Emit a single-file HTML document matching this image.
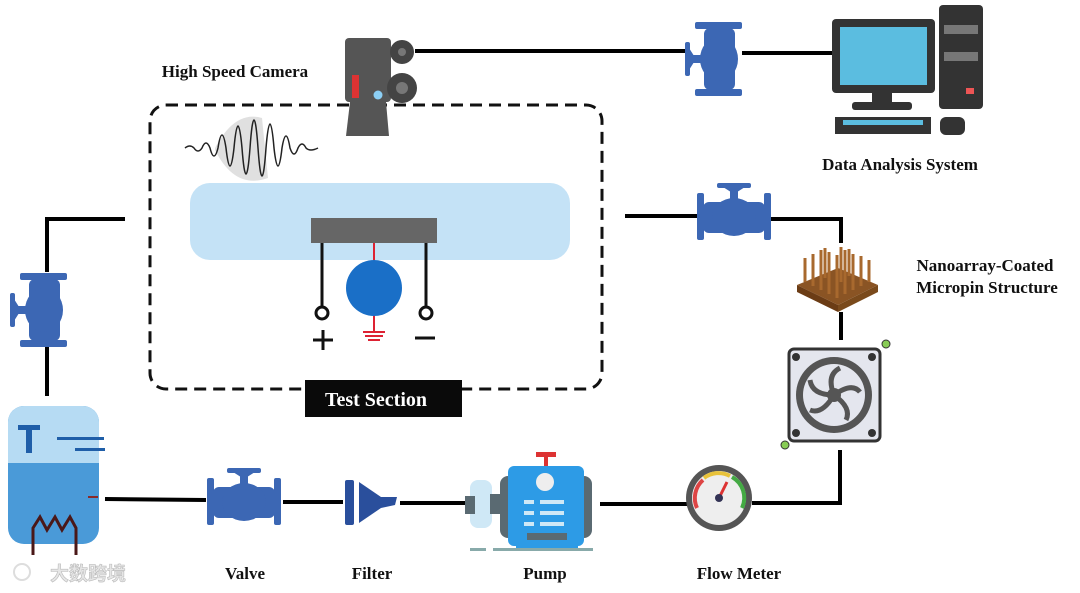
<!DOCTYPE html>
<html><head><meta charset="utf-8"><style>
html,body{margin:0;padding:0;background:#fff;}
svg{display:block;}
text{font-family:"Liberation Serif",serif;font-weight:bold;fill:#111;}
</style></head><body>
<svg width="1080" height="593" viewBox="0 0 1080 593" xmlns="http://www.w3.org/2000/svg">
<defs>
<g id="valve">
  <rect x="0" y="10" width="7" height="47" rx="2" fill="#3c67b4"/>
  <rect x="67" y="10" width="7" height="47" rx="2" fill="#3c67b4"/>
  <rect x="6" y="19" width="62" height="31" rx="6" fill="#3c67b4"/>
  <ellipse cx="37" cy="34" rx="22" ry="19" fill="#3c67b4"/>
  <rect x="33" y="6" width="8" height="14" fill="#3c67b4"/>
  <rect x="20" y="0" width="34" height="5" rx="2" fill="#3c67b4"/>
  <path d="M26 4 L48 4 L37 11 Z" fill="#3c67b4"/>
</g>
</defs>

<!-- pipes -->
<g stroke="#000" stroke-width="4" fill="none">
  <polyline points="125,219 47,219 47,272"/>
  <line x1="47" y1="347" x2="47" y2="396"/>
  <line x1="415" y1="51" x2="686" y2="51"/>
  <line x1="742" y1="53" x2="833" y2="53"/>
  <line x1="625" y1="216" x2="697" y2="216"/>
  <polyline points="771,219 841,219 841,243"/>
  <line x1="841" y1="312" x2="841" y2="340"/>
  <polyline points="840,450 840,503 752,503"/>
  <line x1="600" y1="504" x2="688" y2="504"/>
  <line x1="400" y1="503" x2="466" y2="503"/>
  <line x1="283" y1="502" x2="343" y2="502"/>
  <line x1="105" y1="499" x2="206" y2="500"/>
</g>

<!-- dashed test section -->
<rect x="150" y="105" width="452" height="284" rx="16" fill="none" stroke="#111" stroke-width="3" stroke-dasharray="12,7"/>
<rect x="190" y="183" width="380" height="77" rx="20" fill="#c4e2f6"/>
<rect x="311" y="218" width="126" height="25" fill="#666"/>
<g stroke="#111" stroke-width="3" fill="#fff">
  <line x1="322" y1="243" x2="322" y2="307"/>
  <line x1="426" y1="243" x2="426" y2="307"/>
  <circle cx="322" cy="313" r="6"/>
  <circle cx="426" cy="313" r="6"/>
  <line x1="313" y1="340" x2="333" y2="340"/>
  <line x1="323" y1="330" x2="323" y2="350"/>
  <line x1="415" y1="338" x2="435" y2="338"/>
</g>
<g stroke="#d23" stroke-width="2">
  <line x1="374" y1="243" x2="374" y2="262"/>
  <line x1="374" y1="315" x2="374" y2="332"/>
  <line x1="363" y1="332" x2="385" y2="332"/>
  <line x1="365" y1="336" x2="383" y2="336"/>
  <line x1="368" y1="340" x2="380" y2="340"/>
</g>
<circle cx="374" cy="288" r="28" fill="#1a6fc7"/>
<!-- wave -->
<path d="M215 148 Q235 110 262 118 L268 178 Q235 190 215 150 Z" fill="#bbb" opacity="0.45"/>
<path d="M185 148 Q190 144 194 148 Q198 154 202 148 Q206 138 210 148 Q214 164 218 148 Q222 122 226 148 Q230 184 234 148 Q238 104 242 148 Q246 200 250 148 Q254 92 258 148 Q262 204 266 148 Q270 100 274 148 Q278 184 282 148 Q286 124 290 148 Q294 160 298 148 Q302 140 306 148 Q310 152 318 148" fill="none" stroke="#222" stroke-width="1.5"/>

<!-- camera -->
<rect x="345" y="38" width="46" height="64" rx="4" fill="#555"/>
<rect x="352" y="75" width="7" height="23" fill="#d33"/>
<circle cx="378" cy="95" r="4.5" fill="#8ccff5"/>
<path d="M350 102 L386 102 L389 136 L346 136 Z" fill="#555"/>
<circle cx="402" cy="52" r="12" fill="#444"/><circle cx="402" cy="52" r="4" fill="#777"/>
<circle cx="402" cy="88" r="15" fill="#444"/><circle cx="402" cy="88" r="6" fill="#777"/>
<text x="235" y="77" font-size="17" text-anchor="middle">High Speed Camera</text>

<!-- valves -->
<use href="#valve" transform="translate(10,347) rotate(-90)"/>
<use href="#valve" transform="translate(685,96) rotate(-90)"/>
<use href="#valve" transform="translate(697,183)"/>
<use href="#valve" transform="translate(207,468)"/>

<!-- computer -->
<rect x="832" y="19" width="103" height="74" rx="4" fill="#333"/>
<rect x="840" y="27" width="87" height="58" fill="#5bbde0"/>
<rect x="872" y="93" width="20" height="10" fill="#333"/>
<rect x="852" y="102" width="60" height="8" rx="3" fill="#333"/>
<rect x="835" y="117" width="96" height="17" fill="#333"/>
<rect x="843" y="120" width="80" height="5" fill="#5bbde0"/>
<rect x="939" y="5" width="44" height="104" rx="4" fill="#333"/>
<rect x="944" y="25" width="34" height="9" fill="#777"/>
<rect x="944" y="52" width="34" height="9" fill="#777"/>
<rect x="966" y="88" width="8" height="6" fill="#e55"/>
<rect x="940" y="117" width="25" height="18" rx="6" fill="#333"/>
<text x="900" y="170" font-size="17" text-anchor="middle">Data Analysis System</text>

<!-- micropin -->
<path d="M797 285 L838 268 L878 285 L838 305 Z" fill="#8a5424"/>
<path d="M797 285 L838 305 L838 312 L797 292 Z" fill="#6b3c15"/>
<path d="M878 285 L838 305 L838 312 L878 292 Z" fill="#7a4a1c"/>
<g stroke="#a8692e" stroke-width="3">
  <line x1="805" y1="282" x2="805" y2="258"/><line x1="813" y1="286" x2="813" y2="254"/>
  <line x1="821" y1="290" x2="821" y2="250"/><line x1="829" y1="294" x2="829" y2="252"/>
  <line x1="837" y1="298" x2="837" y2="255"/><line x1="845" y1="294" x2="845" y2="250"/>
  <line x1="853" y1="290" x2="853" y2="254"/><line x1="861" y1="286" x2="861" y2="256"/>
  <line x1="869" y1="282" x2="869" y2="260"/><line x1="825" y1="278" x2="825" y2="248"/>
  <line x1="841" y1="282" x2="841" y2="247"/><line x1="849" y1="276" x2="849" y2="249"/>
</g>
<text x="985" y="271" font-size="17" text-anchor="middle">Nanoarray-Coated</text>
<text x="987" y="293" font-size="17" text-anchor="middle">Micropin Structure</text>

<!-- fan -->
<rect x="789" y="349" width="91" height="92" rx="5" fill="#e4e6ee" stroke="#333" stroke-width="3"/>
<circle cx="834" cy="395" r="38" fill="#555"/>
<circle cx="834" cy="395" r="31" fill="#e4e6ee"/>
<g fill="none" stroke="#555" stroke-width="5">
  <path d="M834 395 Q826 375 840 368"/><path d="M834 395 Q852 382 860 392"/>
  <path d="M834 395 Q852 408 846 420"/><path d="M834 395 Q822 415 810 410"/>
  <path d="M834 395 Q812 395 810 380"/>
</g>
<circle cx="834" cy="395" r="7" fill="#555"/>
<g fill="#333"><circle cx="796" cy="357" r="4"/><circle cx="872" cy="357" r="4"/><circle cx="796" cy="433" r="4"/><circle cx="872" cy="433" r="4"/></g>
<circle cx="886" cy="344" r="4" fill="#8c5" stroke="#333"/>
<circle cx="785" cy="445" r="4" fill="#8c5" stroke="#333"/>

<!-- flow meter -->
<circle cx="719" cy="498" r="33" fill="#555"/>
<circle cx="719" cy="498" r="27" fill="#eee"/>
<path d="M697 508 A24 24 0 0 1 703 480" fill="none" stroke="#d44" stroke-width="4"/>
<path d="M704 478 A24 24 0 0 1 730 476" fill="none" stroke="#e8c23a" stroke-width="4"/>
<path d="M732 477 A24 24 0 0 1 742 508" fill="none" stroke="#4a4" stroke-width="4"/>
<line x1="719" y1="498" x2="727" y2="482" stroke="#d33" stroke-width="3"/>
<circle cx="719" cy="498" r="4" fill="#335"/>

<!-- pump -->
<rect x="544" y="452" width="4" height="14" fill="#d33"/>
<rect x="536" y="452" width="20" height="5" fill="#d33"/>
<rect x="470" y="480" width="22" height="48" rx="8" fill="#cfe8f6"/>
<rect x="465" y="496" width="10" height="18" fill="#5a6a72"/>
<rect x="490" y="494" width="14" height="20" fill="#5a6a72"/>
<rect x="500" y="476" width="92" height="62" rx="8" fill="#5a6a72"/>
<rect x="508" y="466" width="76" height="80" rx="6" fill="#2d9be6"/>
<circle cx="545" cy="482" r="9" fill="#eee"/>
<g fill="#cfe8f6"><rect x="524" y="500" width="10" height="4"/><rect x="540" y="500" width="24" height="4"/><rect x="524" y="511" width="10" height="4"/><rect x="540" y="511" width="24" height="4"/><rect x="524" y="522" width="10" height="4"/><rect x="540" y="522" width="24" height="4"/></g>
<rect x="527" y="533" width="40" height="12" fill="#5a6a72"/>
<rect x="516" y="540" width="62" height="8" fill="#2d9be6"/>
<rect x="470" y="548" width="16" height="3" fill="#8aa"/>
<rect x="493" y="548" width="100" height="3" fill="#8aa"/>

<!-- filter -->
<rect x="345" y="480" width="9" height="45" rx="2" fill="#2a4f9c"/>
<path d="M359 482 L381 497 L397 497 L395 505 L381 508 L359 523 Z" fill="#2a4f9c"/>

<!-- tank -->
<rect x="8" y="406" width="91" height="138" rx="16" fill="#4a9ad8"/>
<path d="M24 406 H83 A16 16 0 0 1 99 422 V463 H8 V422 A16 16 0 0 1 24 406 Z" fill="#b6dbf3"/>
<rect x="18" y="425" width="22" height="5" fill="#1f5ea8"/><rect x="26" y="425" width="6" height="28" fill="#1f5ea8"/>
<rect x="57" y="437" width="47" height="3" fill="#1f5ea8"/><rect x="75" y="448" width="30" height="3" fill="#1f5ea8"/>
<rect x="88" y="496" width="10" height="2" fill="#8a2a2a"/>
<path d="M33 555 V528 L40 517 L47 530 L55 517 L62 530 L70 517 L76 528 V555" fill="none" stroke="#4a1818" stroke-width="3"/>

<!-- test section label -->
<rect x="305" y="380" width="157" height="37" fill="#0a0a0a"/>
<text x="376" y="406" font-size="20" text-anchor="middle" style="fill:#fff">Test Section</text>

<!-- labels -->
<text x="245" y="579" font-size="17" text-anchor="middle">Valve</text>
<text x="372" y="579" font-size="17" text-anchor="middle">Filter</text>
<text x="545" y="579" font-size="17" text-anchor="middle">Pump</text>
<text x="739" y="579" font-size="17" text-anchor="middle">Flow Meter</text>

<!-- watermark -->
<text x="88" y="580" font-size="19" text-anchor="middle" style="fill:#e6e6e6;font-family:'Liberation Sans','Noto Sans CJK SC',sans-serif;stroke:#bbb;stroke-width:0.6">大数跨境</text>
<circle cx="22" cy="572" r="8" fill="none" stroke="#ddd" stroke-width="2"/>
</svg>
</body></html>
